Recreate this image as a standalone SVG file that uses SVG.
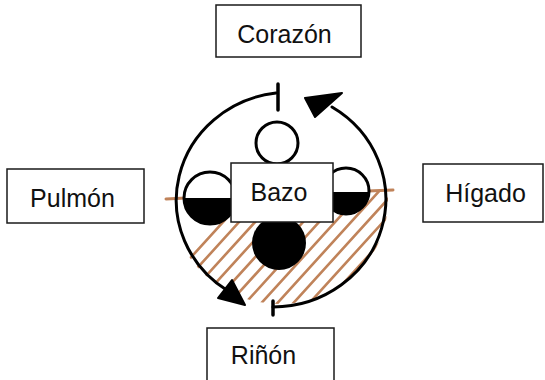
<svg xmlns="http://www.w3.org/2000/svg" width="545" height="380" viewBox="0 0 545 380">
  <style>
    .box { fill: #ffffff; stroke: #1a1a1a; stroke-width: 1.5; }
    .label { font-family: "Liberation Sans", Arial, sans-serif; font-size: 25px; fill: #111111; text-anchor: middle; }
    .ring { fill: none; stroke: #000000; stroke-width: 3; stroke-linecap: round; }
    .organ { fill: #ffffff; stroke: #000000; stroke-width: 3; }
    .tick { stroke: #000000; stroke-width: 3.5; stroke-linecap: round; }
    .head { fill: #000000; stroke: #000000; stroke-width: 2; stroke-linejoin: round; }
    .brown { stroke: #c0835a; stroke-width: 3; fill: none; stroke-linecap: round; }
    .hatch line { stroke: #c0835a; stroke-width: 2.6; stroke-linecap: round; }
  </style>
  <defs>
    <clipPath id="lowerHalf">
      <path d="M 166 199 L 393 190 L 393 320 L 166 320 Z"/>
    </clipPath>
    <clipPath id="ringInside">
      <ellipse cx="280" cy="201" rx="108" ry="103"/>
    </clipPath>
  </defs>

  <!-- hatched lower segment of the ring -->
  <g id="hatched-area" clip-path="url(#lowerHalf)">
    <g class="hatch" clip-path="url(#ringInside)">
      <line x1="134" y1="320" x2="274" y2="166"/>
      <line x1="150" y1="320" x2="290" y2="166"/>
      <line x1="166" y1="320" x2="306" y2="166"/>
      <line x1="182" y1="320" x2="322" y2="166"/>
      <line x1="198" y1="320" x2="338" y2="166"/>
      <line x1="214" y1="320" x2="354" y2="166"/>
      <line x1="230" y1="320" x2="370" y2="166"/>
      <line x1="246" y1="320" x2="386" y2="166"/>
      <line x1="262" y1="320" x2="402" y2="166"/>
      <line x1="278" y1="320" x2="418" y2="166"/>
      <line x1="294" y1="320" x2="434" y2="166"/>
      <line x1="310" y1="320" x2="450" y2="166"/>
      <line x1="326" y1="320" x2="466" y2="166"/>
      <line x1="342" y1="320" x2="482" y2="166"/>
      <line x1="358" y1="320" x2="498" y2="166"/>
    </g>
  </g>
  <!-- dividing line -->
  <path class="brown" d="M 166 199 L 186 198 M 368 191 L 393 190"/>

  <!-- inner organs -->
  <g id="top-circle">
    <circle class="organ" cx="277" cy="143" r="21"/>
  </g>
  <g id="left-circle">
    <circle class="organ" cx="210" cy="198" r="26"/>
    <path d="M 184 198 A 26 26 0 0 0 236 198 Z" fill="#000000"/>
  </g>
  <g id="right-circle">
    <circle class="organ" cx="346" cy="191" r="23"/>
    <path d="M 323 192 A 23 23 0 0 0 369 192 Z" fill="#000000"/>
  </g>
  <g id="bottom-circle">
    <circle cx="279" cy="243" r="27" fill="#000000"/>
  </g>

  <!-- center node -->
  <g id="bazo">
    <rect class="box" x="231" y="163" width="102" height="59"/>
    <text class="label" x="279" y="201">Bazo</text>
  </g>

  <!-- circular flow -->
  <g id="connectors">
    <path class="ring" d="M 276 93 A 113 108 0 0 0 228 291"/>
    <path class="ring" d="M 273 307 A 113 108 0 0 0 332 107"/>
    <polygon class="head" points="218,298 232,280 245,305"/>
    <polygon class="head" points="305,98 342,93 315,117"/>
    <line class="tick" x1="278" y1="84" x2="278" y2="110"/>
    <line class="tick" x1="273" y1="301" x2="273" y2="315"/>
  </g>

  <!-- outer nodes -->
  <g id="corazon">
    <rect class="box" x="216" y="5" width="145" height="52"/>
    <text class="label" x="284.5" y="43">Corazón</text>
  </g>
  <g id="pulmon">
    <rect class="box" x="7" y="169" width="137" height="54"/>
    <text class="label" x="72.5" y="207">Pulmón</text>
  </g>
  <g id="higado">
    <rect class="box" x="423" y="164" width="120" height="58"/>
    <text class="label" x="485.5" y="202">Hígado</text>
  </g>
  <g id="rinon">
    <rect class="box" x="207" y="328" width="127" height="60"/>
    <text class="label" x="263.5" y="364">Riñón</text>
  </g>
</svg>
